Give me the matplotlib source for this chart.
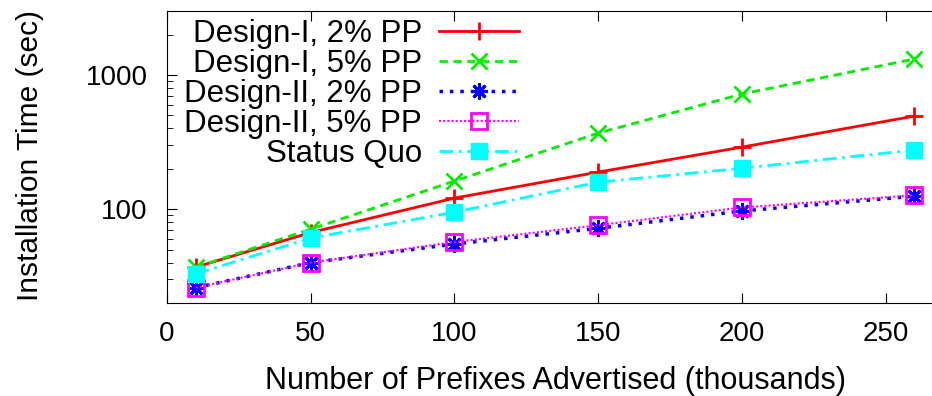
import matplotlib
matplotlib.use("Agg")
import matplotlib.pyplot as plt

plt.rcParams['font.family'] = ['Liberation Sans', 'DejaVu Sans']

# prefixes advertised (thousands)
prefixes = [10, 50, 100, 150, 200, 260]

d1_2pp = [37, 67, 121, 189, 290, 494]
d1_5pp = [37, 71, 162, 369, 722, 1316]
d2_2pp = [26, 40, 55, 72, 97, 125]
d2_5pp = [26, 40, 57, 76, 103, 127]
status_quo = [33, 61, 95, 159, 202, 276]

labels = ["Design-I, 2% PP", "Design-I, 5% PP", "Design-II, 2% PP",
          "Design-II, 5% PP", "Status Quo"]

fig = plt.figure(figsize=(9.32, 3.96), dpi=100)
ax = fig.add_axes([167/932, 93/396, 776/932, 292/396])

ax.plot(prefixes, d1_2pp, color='#ff0000', ls='-', lw=2, marker='+',
        ms=13, mew=2, label=labels[0])
ax.plot(prefixes, d1_5pp, color='#00ee00', ls=(0, (3, 2)), lw=2, marker='x',
        ms=11, mew=2, label=labels[1])
ax.plot(prefixes, d2_2pp, color='#0000ff', ls=(0, (1, 2)), lw=2.5, marker=(8, 2, 0),
        ms=12, mew=2, label=labels[2])
ax.plot(prefixes, d2_5pp, color='#ff00ff', ls=(0, (1, 1)), lw=1.5, marker='s',
        ms=11, mew=2, mfc='none', label=labels[3])
ax.plot(prefixes, status_quo, color='#00ffff', ls=(0, (5, 2, 1, 2)), lw=2, marker='s',
        ms=11, label=labels[4])

ax.set_yscale('log')
ax.set_ylim(20, 3000)
ax.set_xlim(0, 270)
ax.set_xticks([0, 50, 100, 150, 200, 250])
ax.set_yticks([100, 1000])
ax.set_yticklabels(['100', '1000'])
ax.tick_params(which='both', direction='in', top=True, right=True, labelsize=20)
ax.tick_params(axis='x', pad=13)
ax.tick_params(axis='y', pad=14)
ax.tick_params(which='major', length=7)
ax.tick_params(which='minor', length=4)
ax.yaxis.set_minor_formatter(matplotlib.ticker.NullFormatter())

ax.set_xlabel("Number of Prefixes Advertised (thousands)", fontsize=22)
ax.set_ylabel("Installation Time (sec)", fontsize=21.5)
ax.xaxis.set_label_coords(0.501, -0.215)
ax.yaxis.set_label_coords(-0.158, 0.505)

leg = ax.legend(loc='upper right', bbox_to_anchor=((519 - 167) / 776, 0.972),
                markerfirst=False, frameon=False, fontsize=22.5,
                handlelength=2.55, labelspacing=0.0,
                handletextpad=0.55, borderaxespad=0.0, borderpad=0.0)
for col in leg._legend_handle_box.get_children():
    col.align = "right"

fig.savefig("out.png", dpi=100)
